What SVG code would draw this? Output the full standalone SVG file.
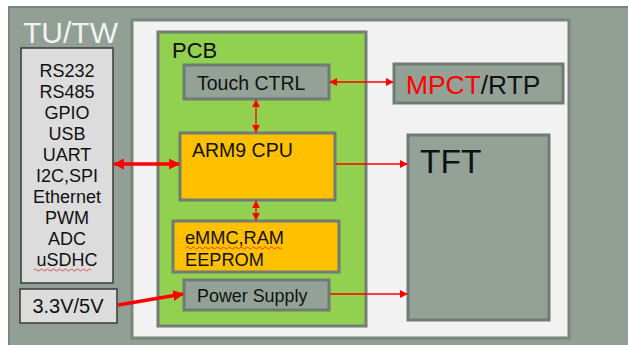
<svg xmlns="http://www.w3.org/2000/svg" width="628" height="345" viewBox="0 0 628 345">
<defs>
<style>
text{font-family:"Liberation Sans",Arial,sans-serif;fill:#111}
.g{fill:#93a197;stroke:#6f7b73;stroke-width:3}
.y{fill:#ffc000;stroke:#6f7b73;stroke-width:3}
.l{fill:#dcdcdc;stroke:#3a3a3a;stroke-width:1.5}
.thin{stroke:#f00;stroke-width:1.3;fill:none}
.thick{stroke:#f00;stroke-width:3.5;fill:none}
.sq{stroke:#e03030;stroke-width:0.8;fill:none}
</style>
<marker id="a" viewBox="0 0 10 10" refX="9" refY="5" markerWidth="8" markerHeight="8" markerUnits="userSpaceOnUse" orient="auto-start-reverse"><path d="M0,0L10,5L0,10z" fill="#f00"/></marker>
<marker id="b" viewBox="0 0 10 10" refX="9" refY="5" markerWidth="11" markerHeight="11" markerUnits="userSpaceOnUse" orient="auto-start-reverse"><path d="M0,0L10,5L0,10z" fill="#f00"/></marker>
</defs>
<rect width="628" height="345" fill="#fff"/>
<g id="tutw">
<rect x="9" y="7" width="625" height="345" fill="#919f95" stroke="#7a857d" stroke-width="2"/>
<text x="23" y="43" font-size="30" style="fill:#f2f2f2">TU/TW</text>
</g>
<g id="inner">
<rect x="132" y="20" width="437" height="318" fill="#f2f2f2" stroke="#7a857d" stroke-width="3"/>
</g>
<g id="pcb">
<rect x="158" y="32" width="208" height="294" fill="#92d050" stroke="#737d76" stroke-width="3"/>
<text x="172" y="58" font-size="22">PCB</text>
</g>
<g id="touch">
<rect class="g" x="184" y="65" width="145" height="34"/>
<text x="197" y="90" font-size="19.5">Touch CTRL</text>
</g>
<g id="cpu">
<rect class="y" x="180" y="133" width="155" height="67"/>
<text x="192" y="157" font-size="19.5">ARM9 CPU</text>
</g>
<g id="mem">
<rect class="y" x="173" y="221" width="166" height="51"/>
<text x="185" y="244" font-size="18.2">eMMC,RAM</text>
<text x="185" y="266" font-size="18.2">EEPROM</text>
<path class="sq" d="M186,248 q1.5,-2 3,0 t3,0 t3,0 t3,0 t3,0 t3,0 t3,0 t3,0 t3,0 t3,0 t3,0 t3,0 t3,0 t3,0 t3,0 t3,0 t3,0 t3,0 t3,0 t3,0 t3,0 t3,0 t3,0 t3,0 t3,0 t3,0 t3,0 t3,0 t3,0 t3,0 t3,0 t3,0"/>
</g>
<g id="power">
<rect class="g" x="184" y="280" width="145" height="30"/>
<text x="197" y="302" font-size="17.9">Power Supply</text>
</g>
<g id="ifaces">
<rect class="l" x="21" y="48" width="92" height="235"/>
<g font-size="18" text-anchor="middle">
<text x="67" y="76.5">RS232</text>
<text x="67" y="97.5">RS485</text>
<text x="67" y="118.5">GPIO</text>
<text x="67" y="139.5">USB</text>
<text x="67" y="160.5">UART</text>
<text x="67" y="181.5">I2C,SPI</text>
<text x="67" y="202.5">Ethernet</text>
<text x="67" y="223.5">PWM</text>
<text x="67" y="244.5">ADC</text>
<text x="67" y="265.5">uSDHC</text>
</g>
<path class="sq" d="M34,270 q1.5,-2 3,0 t3,0 t3,0 t3,0 t3,0 t3,0 t3,0 t3,0 t3,0 t3,0 t3,0 t3,0 t3,0 t3,0 t3,0 t3,0 t3,0 t3,0 t3,0"/>
</g>
<g id="volt">
<rect class="l" x="20" y="289" width="97" height="34"/>
<text x="68" y="313" font-size="20" text-anchor="middle">3.3V/5V</text>
</g>
<g id="mpct">
<rect class="g" x="394" y="64" width="169" height="39"/>
<text x="406" y="94" font-size="26.4"><tspan style="fill:#f00">MPCT</tspan>/RTP</text>
</g>
<g id="tft">
<rect class="g" x="408" y="135" width="141" height="185"/>
<text x="420" y="173" font-size="33.5">TFT</text>
</g>
<g id="connectors">
<path class="thin" d="M330,82H393" marker-start="url(#a)" marker-end="url(#a)"/>
<path class="thin" d="M256,100V132" marker-start="url(#a)" marker-end="url(#a)"/>
<path class="thin" d="M256,201V220" marker-start="url(#a)" marker-end="url(#a)"/>
<path class="thick" d="M114,164H179" marker-start="url(#b)" marker-end="url(#b)"/>
<path class="thin" d="M336,164H407" marker-end="url(#a)"/>
<path class="thick" d="M118,305L183,294" marker-end="url(#b)"/>
<path class="thin" d="M330,294H407" marker-end="url(#a)"/>
</g>
</svg>
